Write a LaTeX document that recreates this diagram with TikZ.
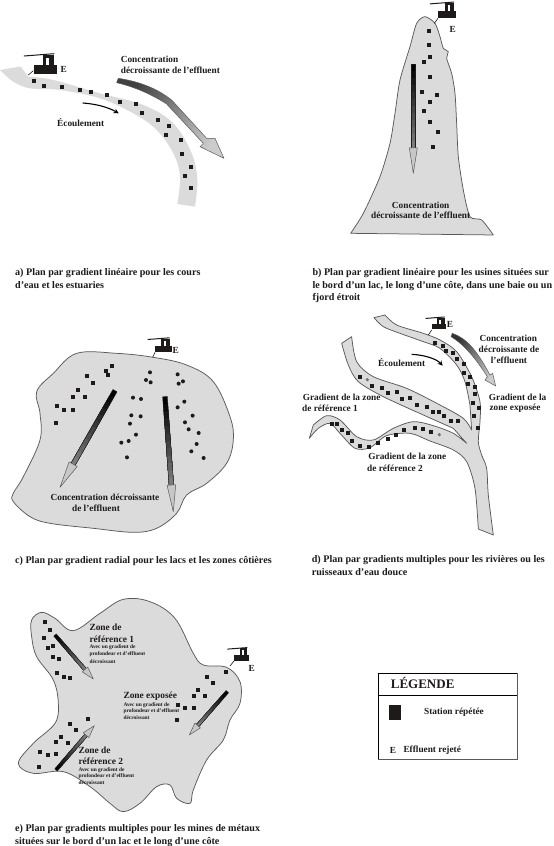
\documentclass[tikz,border=0pt]{standalone}
\usepackage{fontspec}
\setmainfont{Liberation Serif}[BoldFont={Liberation Serif Bold}]
\usetikzlibrary{arrows.meta}
\definecolor{ink}{HTML}{1E1A1A}
\definecolor{water}{HTML}{DBDBDB}
\definecolor{bank}{HTML}{5A5A5A}
\definecolor{shaftlight}{HTML}{8C8C8C}
\tikzset{
  zoomed/.style 2 args={shift={(#1,#2)},x=.3333pt,y=-.3333pt},
  lake/.style={fill=water,draw=bank,line width=.75pt,line join=round},
  txt/.style={inner sep=0pt,anchor=west,text=ink,font=\bfseries\fontsize{9.3}{11}\selectfont},
  ctr/.style={txt,anchor=center},
  caption/.style={txt,font=\bfseries\fontsize{10.1}{12}\selectfont},
  big/.style={txt,font=\bfseries\fontsize{9.4}{11}\selectfont},
  tiny/.style={txt,font=\bfseries\fontsize{5.4}{6}\selectfont},
  flow/.style={draw=black,line width=1.1pt,-{Stealth[length=5pt,width=5pt]}},
  link/.style={draw=ink,line width=.6pt},
  curved arrow/.style={draw=bank,line width=.5pt,line join=round,top color=#1,bottom color=black!20,shading angle=55},
}
% stations
\newcommand\squares[1]{\foreach \x/\y in {#1}{\fill[ink] (\x,\y) ++(-2.1pt,-2.1pt) rectangle ++(4.2pt,4.2pt);}}
\newcommand\rounddots[1]{\foreach \x/\y in {#1}{\fill[ink] (\x,\y) circle[radius=2pt];}}
% factory, body's upper left corner at x,y (pixels), scale
\newcommand\factory[3]{\begin{scope}[shift={(#1,#2)},scale=#3]
  \fill[ink] (0,0) rectangle (16,6);
  \fill[ink] (6,-7) rectangle (14,0);
  \fill[white] (8.3,-5) rectangle (10,0);
  \draw[ink,line width=1pt] (-7,-6.2) -- (6,-7.2) -- (14,-7.8);
\end{scope}}
% straight gradient arrow: x1 y1 x2 y2 shaft-half head-half head-length
\newcommand\garrow[7]{%
  \pgfmathsetmacro\ang{atan2(-(#4-#2),#3-#1)}%
  \pgfmathsetmacro\len{veclen(#3-#1,#4-#2)}%
  \pgfmathsetmacro\shaftend{\len-#7}%
  \begin{scope}[shift={(#1,#2)},rotate=\ang,x=.3333pt,y=.3333pt]
    \foreach \i in {0,...,11}{
      \pgfmathsetmacro\st{\shaftend*\i/12}
      \pgfmathsetmacro\pc{100-\i*8}
      \fill[black!\pc!shaftlight] (\st,-#5) rectangle (\shaftend,#5);}
    \draw[draw=ink,line width=.4pt,line join=round] (0,-#5) -- (\shaftend,-#5) (0,#5) -- (\shaftend,#5) (0,-#5) -- (0,#5);
    \draw[draw=bank,fill=black!22,line width=.5pt,line join=round] (\shaftend,#6) -- (\len,0) -- (\shaftend,-#6) -- cycle;
  \end{scope}}
\begin{document}
\begin{tikzpicture}[x=1pt,y=-1pt]
\useasboundingbox (0,0) rectangle (554,846);
\fill[white] (0,0) rectangle (554,846);

%% ------------ panel a
\begin{scope}[zoomed={0}{30}]
  \fill[water] plot[smooth,tension=.6] coordinates {(0,120) (40,113) (62,110)} -- plot[smooth,tension=.6] coordinates {(85,140) (160,150) (300,190) (430,225) (520,280) (575,370) (592,450) (585,530)} -- plot[smooth,tension=.6] coordinates {(532,522) (540,440) (520,370) (470,300) (400,250) (300,205) (180,180) (90,175) (40,155) (0,120)} -- cycle;
  \squares{101/152,133/168,186/172,240/180,273/187,320/196,360/217,408/223,426/250,473/270,508/288,498/316,543/331,546/373,573/410,556/439,573/475}
  \shade[curved arrow=black!75] (355,145) .. controls (420,155) and (470,175) .. (515,210) -- (620,325) -- (645,325) -- (672,385) -- (600,350) -- (610,340) -- (500,222) .. controls (450,190) and (400,170) .. (350,158) -- cycle;
  \coordinate (fa1) at (248,219);
  \coordinate (fa2) at (356,250);
  \draw[flow] (fa1) .. controls (290,222) and (325,232) .. (fa2);
  \node[txt] (a1) at (362,88) {Concentration};
  \node[txt] (a2) at (362,121) {décroissante de l’effluent};
  \node[txt] (a3) at (171,278) {Écoulement};
  \node[txt] (a4) at (181,118) {E};
  \node[caption] (a5) at (45,730) {a) Plan par gradient linéaire pour les cours};
  \node[caption] (a6) at (45,765) {d’eau et les estuaries};
  \coordinate (la1) at (100,122);
  \coordinate (la2) at (85,135);
  \draw[link] (la1) -- (la2);
\end{scope}
\factory{34}{65}{1.45}

%% ------------ panel b
\begin{scope}[zoomed={300}{0}]
  \draw[lake] plot[smooth,tension=.45] coordinates {(152,700) (190,640) (240,530) (270,430) (285,340) (300,240) (330,140) (350,70) (375,50) (405,70) (420,110) (430,145) (445,155) (440,175) (455,220) (465,280) (470,370) (475,470) (490,570) (510,650) (545,660) (580,705)} -- cycle;
  \squares{387/93,387/136,389/172,371/185,389/232,366/275,411/286,390/307,372/334,389/367,414/397,399/441}
  \garrow{340}{192}{340}{520}{7}{12}{76}
  \node[ctr] (b1) at (362,615) {Concentration};
  \node[ctr] (b2) at (362,647) {décroissante de l’effluent};
  \node[txt] (b3) at (448,88) {E};
  \node[caption] (b4) at (37,820) {b) Plan par gradient linéaire pour les usines situées sur};
  \node[caption] (b5) at (37,857) {le bord d’un lac, le long d’une côte, dans une baie ou un};
  \node[caption] (b6) at (37,895) {fjord étroit};
  \coordinate (lb1) at (414,55);
  \coordinate (lb2) at (403,70);
  \draw[link] (lb1) -- (lb2);
\end{scope}
\factory{438}{11}{1.15}

%% ------------ panel c
\begin{scope}[zoomed={0}{320}]
  \draw[lake] plot[smooth cycle,tension=.6] coordinates {(40,520) (70,470) (120,360) (120,280) (110,215) (160,160) (230,100) (350,100) (460,112) (560,135) (640,185) (690,290) (700,360) (680,430) (620,490) (560,525) (530,580) (470,625) (400,637) (280,625) (150,610) (90,590) (40,545)};
  \squares{336/139,318/153,324/166,261/169,279/190,234/211,219/231,255/232,171/259,192/271,219/269,168/310}
  \rounddots{450/157,438/180,452/187,533/163,549/184,536/191,399/233,423/237,553/245,533/262,394/286,422/289,578/287,555/307,390/311,566/328,596/339,408/344,364/368,386/363,590/372,574/394,381/412,611/414}
  \garrow{345}{212}{180}{502}{7}{14}{80}
  \garrow{495}{230}{520}{575}{7}{13}{80}
  \node[ctr] (c1) at (315,533) {Concentration décroissante};
  \node[ctr] (c2) at (288,565) {de l’effluent};
  \node[txt] (c3) at (517,92) {E};
  \node[caption] (c4) at (45,723) {c) Plan par gradient radial pour les lacs et les zones côtières};
  \coordinate (lc1) at (465,97);
  \coordinate (lc2) at (458,112);
  \draw[link] (lc1) -- (lc2);
\end{scope}
\factory{155}{346}{1.05}

%% ------------ panel d
\begin{scope}[zoomed={290}{305}]
  \draw[lake] (252,38) -- plot[smooth,tension=.5] coordinates {(285,30) (320,60) (400,85) (450,105) (500,140) (545,215) (570,290) (570,350) (565,410) (575,450) (590,490) (595,570) (610,690)}
    -- plot[smooth,tension=.5] coordinates {(565,672) (555,550) (530,470) (490,435) (420,408) (360,385) (290,392) (240,428) (195,430) (150,385) (120,355) (85,370) (58,400)}
    -- plot[smooth,tension=.5] coordinates {(70,360) (110,332) (150,345) (200,395) (250,405) (310,370) (370,350) (430,362) (490,385) (530,415)}
    -- plot[smooth,tension=.5] coordinates {(490,370) (400,330) (280,275) (205,230) (175,180) (155,115)}
    -- plot[smooth,tension=.5] coordinates {(185,95) (200,170) (250,215) (350,250) (450,300) (520,340) (545,375)}
    -- plot[smooth,tension=.5] coordinates {(540,300) (525,230) (500,180) (450,130) (400,110) (330,85) (280,65) (252,38)} -- cycle;
  \squares{434/115,459/124,490/143,469/137,522/176,502/161,522/204,541/215,535/236,556/245,556/268,548/293,566/310,551/332,563/368,210/216,247/243,276/249,295/264,321/260,335/281,360/279,382/300,410/305,430/320,448/320,463/333,482/348,505/349,125/357,142/356,157/374,175/383,187/407,210/423,237/426,264/413,294/402,318/390,343/374,375/369,398/371,422/381}
  \fill[black!55] (232,224) circle[radius=1.8pt] (448,389) circle[radius=1.8pt];
  \shade[curved arrow=black!80] (487,85) .. controls (530,100) and (560,135) .. (600,210) -- (608,205) -- (617,243) -- (585,225) -- (592,215) .. controls (560,165) and (525,120) .. (483,95) -- cycle;
  \coordinate (fd1) at (365,148);
  \coordinate (fd2) at (458,182);
  \draw[flow] (fd1) .. controls (405,150) and (440,162) .. (fd2);
  \node[ctr] (d1) at (655,100) {Concentration};
  \node[ctr] (d2) at (657,132) {décroissante de};
  \node[ctr] (d3) at (657,167) {l’effluent};
  \node[ctr] (d4) at (683,278) {Gradient de la};
  \node[ctr] (d5) at (675,310) {zone exposée};
  \node[ctr] (d6) at (155,277) {Gradient de la zone};
  \node[ctr] (d7) at (120,310) {de référence 1};
  \node[ctr] (d8) at (352,453) {Gradient de la zone};
  \node[ctr] (d9) at (315,490) {de référence 2};
  \node[ctr] (d10) at (335,172) {Écoulement};
  \node[txt] (d11) at (470,58) {E};
  \node[caption] (d12) at (65,765) {d) Plan par gradients multiples pour les rivières ou les};
  \node[caption] (d13) at (65,802) {ruisseaux d’eau douce};
  \coordinate (ld1) at (425,75);
  \coordinate (ld2) at (415,90);
  \draw[link] (ld1) -- (ld2);
\end{scope}
\factory{432}{324}{.9}

%% ------------ panel e
\begin{scope}[zoomed={0}{590}]
  \draw[lake] plot[smooth cycle,tension=.6] coordinates {(95,90) (125,67) (165,85) (220,122) (300,70) (370,28) (450,35) (525,85) (580,190) (610,225) (680,232) (720,275) (720,340) (690,390) (670,450) (620,510) (580,600) (570,640) (530,625) (510,585) (470,590) (420,640) (370,665) (330,640) (270,590) (190,545) (100,550) (55,520) (100,460) (165,400) (175,340) (160,270) (110,200) (95,140)};
  \squares{135/97,150/120,131/143,158/168,144/173,158/201,177/207,172/250,192/260,210/264,678/245,621/262,640/280,594/299,582/318,616/319,534/345,555/355,582/353,531/389,264/386,210/402,228/420,183/440,168/457,204/459,120/485,143/494,168/493,117/530}
  \garrow{165}{135}{280}{267}{5}{11}{38}
  \garrow{682}{305}{568}{435}{5}{11}{38}
  \garrow{168}{540}{283}{407}{5}{11}{38}
  \node[big] (e1) at (268,112) {Zone de};
  \node[big] (e2) at (268,147) {référence 1};
  \node[tiny] (e3) at (268,172) {Avec un gradient de};
  \node[tiny] (e4) at (268,193) {profondeur et d’effluent};
  \node[tiny] (e5) at (268,214) {décroissant};
  \node[big] (e6) at (370,318) {Zone exposée};
  \node[tiny] (e7) at (370,345) {Avec un gradient de};
  \node[tiny] (e8) at (370,364) {profondeur et d’effluent};
  \node[tiny] (e9) at (370,384) {décroissant};
  \node[big] (e10) at (235,480) {Zone de};
  \node[big] (e11) at (235,515) {référence 2};
  \node[tiny] (e12) at (235,540) {Avec un gradient de};
  \node[tiny] (e13) at (235,558) {profondeur et d’effluent};
  \node[tiny] (e14) at (235,579) {décroissant};
  \node[txt] (e15) at (745,235) {E};
  \node[caption] (e16) at (45,718) {e) Plan par gradients multiples pour les mines de métaux};
  \node[caption] (e17) at (45,755) {situées sur le bord d’un lac et le long d’une côte};
  \coordinate (le1) at (703,212);
  \coordinate (le2) at (690,228);
  \draw[link] (le1) -- (le2);
\end{scope}
\factory{234}{655}{.95}

%% ------------ legend
\begin{scope}[zoomed={360}{660}]
  \draw[black,line width=.6pt] (55,297) -- (55,40) -- (472,40) (55,106) -- (472,106);
  \draw[bank,line width=.8pt] (55,297) -- (472,297) -- (472,40);
  \fill[ink] (87,135) rectangle (123,180);
  \node[txt,font=\bfseries\fontsize{13}{14}\selectfont] (g1) at (92,68) {LÉGENDE};
  \node[txt] (g2) at (192,158) {Station répétée};
  \node[txt] (g3) at (89,272) {E};
  \node[txt] (g4) at (130,272) {Effluent rejeté};
\end{scope}
\end{tikzpicture}
\end{document}
